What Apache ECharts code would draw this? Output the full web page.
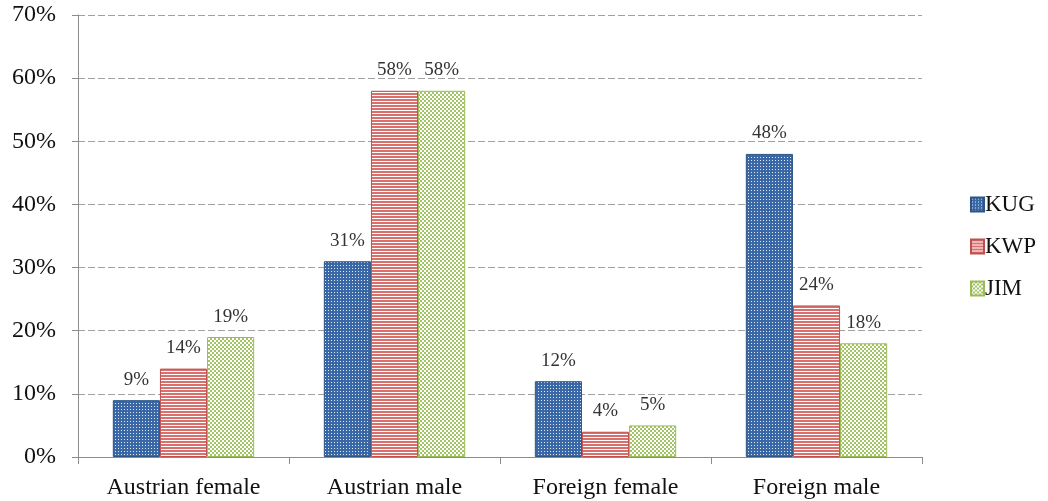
<!DOCTYPE html>
<html>
<head>
<meta charset="utf-8">
<script src="https://cdn.jsdelivr.net/npm/echarts@6/dist/echarts.min.js"></script>
<style>
  html, body { margin: 0; padding: 0; background: #fff; }
  #main { width: 1048px; height: 501px; }
</style>
</head>
<body>
<div id="main"></div>
<script>
var categories = ['Austrian female', 'Austrian male', 'Foreign female', 'Foreign male'];
var seriesNames = ['KUG', 'KWP', 'JIM'];
var kugValues = [9, 31, 12, 48];
var kwpValues = [14, 58, 4, 24];
var jimValues = [19, 58, 5, 18];
var yTicks = [0, 10, 20, 30, 40, 50, 60, 70];

// 做一个小的图案画布
var makeTile = function(w, h, draw) {
    var c = document.createElement('canvas');
    c.width = w;
    c.height = h;
    var ctx = c.getContext('2d');
    draw(ctx);
    return c;
};

// 蓝色点阵
var kugTile = makeTile(3, 3, function(ctx) {
    ctx.fillStyle = '#3a68a6';
    ctx.fillRect(0, 0, 3, 3);
    ctx.fillStyle = '#dfe8f3';
    ctx.fillRect(1, 1, 1, 1);
});
// 红色横线
var kwpTile = makeTile(3, 3, function(ctx) {
    ctx.fillStyle = '#ffffff';
    ctx.fillRect(0, 0, 3, 3);
    ctx.fillStyle = '#d9706d';
    ctx.fillRect(0, 0, 3, 2);
});
// 绿色格子
var jimTile = makeTile(4, 4, function(ctx) {
    ctx.fillStyle = '#ffffff';
    ctx.fillRect(0, 0, 4, 4);
    ctx.fillStyle = '#a4c468';
    ctx.fillRect(0, 0, 2, 2);
    ctx.fillRect(2, 2, 2, 2);
});

var fills = [
    { image: kugTile, repeat: 'repeat' },
    { image: kwpTile, repeat: 'repeat' },
    { image: jimTile, repeat: 'repeat' }
];
var borders = ['#2b5585', '#c0504d', '#9bbb59'];
var dataList = [kugValues, kwpValues, jimValues];

var fontName = '"Liberation Serif", "DejaVu Serif", serif';

var series = [];
for (var i = 0; i < seriesNames.length; i++) {
    series.push({
        name: seriesNames[i],
        type: 'bar',
        data: dataList[i],
        barGap: '0%',
        barCategoryGap: '33%',
        itemStyle: {
            color: fills[i],
            borderColor: borders[i],
            borderWidth: 1
        },
        label: {
            show: true,
            position: 'top',
            distance: 11,
            formatter: '{c}%',
            color: '#333',
            fontFamily: fontName,
            fontSize: 19
        }
    });
}

var option = {
    animation: false,
    textStyle: { fontFamily: fontName },
    grid: {
        left: 78,
        right: 126,
        top: 15,
        bottom: 44
    },
    legend: {
        orient: 'vertical',
        left: 965,
        top: 188,
        itemWidth: 13,
        itemHeight: 14,
        itemGap: 19,
        icon: 'rect',
        data: seriesNames,
        textStyle: {
            color: '#111',
            fontFamily: fontName,
            fontSize: 23,
            padding: [0, 0, 0, -4]
        }
    },
    xAxis: {
        type: 'category',
        data: categories,
        axisLine: { lineStyle: { color: '#8c8c8c' } },
        axisTick: { show: true, length: 7, lineStyle: { color: '#8c8c8c' } },
        axisLabel: {
            color: '#111',
            fontFamily: fontName,
            fontSize: 24,
            margin: 19
        }
    },
    yAxis: {
        type: 'value',
        min: yTicks[0],
        max: yTicks[yTicks.length - 1],
        interval: 10,
        axisLine: { show: true, lineStyle: { color: '#8c8c8c' } },
        axisTick: { show: true, length: 6, lineStyle: { color: '#8c8c8c' } },
        axisLabel: {
            color: '#111',
            fontFamily: fontName,
            fontSize: 24,
            margin: 22,
            formatter: '{value}%'
        },
        splitLine: {
            show: true,
            lineStyle: { color: '#a0a0a0', type: [7, 3] }
        }
    },
    series: series
};

var myChart = echarts.init(document.getElementById('main'));
myChart.setOption(option);
</script>
</body>
</html>
